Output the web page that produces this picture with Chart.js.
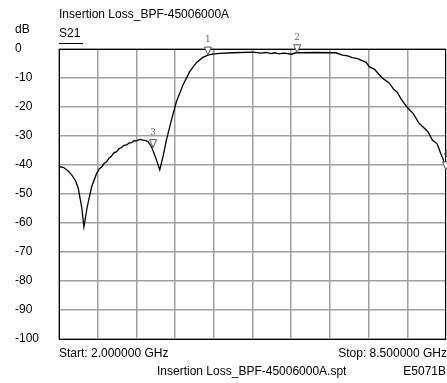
<!DOCTYPE html>
<html>
<head>
<meta charset="utf-8">
<script src="https://cdn.jsdelivr.net/npm/chart.js@4.4.1/dist/chart.umd.min.js"></script>
<style>
  body { margin: 0; background: #fff; }
  #wrap { width: 447px; height: 383px; }
</style>
</head>
<body>
<div id="wrap"><canvas id="s21" width="447" height="383"></canvas></div>
<script>
// S21 trace
const freqGHz = [2.000, 2.072, 2.150, 2.213, 2.280, 2.323, 2.380, 2.419, 2.474, 2.548,
  2.632, 2.680, 2.720, 2.760, 2.799, 2.840, 2.880, 2.920, 2.967, 3.010,
  3.050, 3.090, 3.134, 3.180, 3.220, 3.260, 3.302, 3.360, 3.412, 3.460,
  3.496, 3.553, 3.608, 3.650, 3.692, 3.747, 3.804, 3.888, 3.972, 4.082,
  4.195, 4.307, 4.417, 4.501, 4.580, 4.697, 4.920, 5.255, 5.400, 5.480,
  5.560, 5.620, 5.700, 5.760, 5.820, 5.900, 5.982, 6.317, 6.652, 6.760,
  6.850, 6.925, 7.014, 7.100, 7.160, 7.210, 7.300, 7.350, 7.433, 7.490,
  7.540, 7.629, 7.680, 7.750, 7.847, 7.950, 8.048, 8.150, 8.200, 8.271,
  8.350, 8.380, 8.411, 8.450, 8.500];
const s21dB = [-40.6, -40.8, -42.0, -43.4, -45.5, -48.0, -54.4, -61.3, -54.4, -47.5,
  -42.9, -41.3, -40.6, -39.4, -38.9, -37.6, -37.0, -35.8, -35.4, -34.3,
  -34.0, -33.2, -33.1, -32.4, -32.3, -31.6, -31.7, -31.2, -31.4, -31.6,
  -32.0, -33.7, -36.6, -39.0, -41.7, -37.1, -31.4, -24.5, -18.2, -12.4,
  -7.8, -4.7, -2.9, -2.1, -1.8, -1.5, -1.3, -1.1, -1.4, -1.2,
  -1.6, -1.3, -1.7, -1.4, -1.5, -1.8, -1.3, -1.2, -1.3, -2.1,
  -2.4, -3.0, -3.3, -4.1, -4.6, -6.1, -7.0, -8.2, -10.1, -10.9,
  -11.6, -14.1, -14.9, -17.4, -20.1, -22.3, -25.6, -27.6, -28.6, -31.4,
  -32.7, -34.2, -36.0, -37.8, -41.7];

const markerNames = ['1', '2', '3', '4'];
const markerGHz = [4.5, 6.0, 3.58, 8.5];
const markerdB = [-2.1, -1.3, -34.0, -41.7];

const xGridGHz = [2.0, 2.65, 3.3, 3.95, 4.6, 5.25, 5.9, 6.55, 7.2, 7.85, 8.5];
const yTicks = [0, -10, -20, -30, -40, -50, -60, -70, -80, -90, -100];

const font = '12px "Liberation Sans", Arial, sans-serif';

const decor = {
  id: 'decor',
  afterDatasetsDraw(chart) {
    const ctx = chart.ctx;
    const a = chart.chartArea;
    const xs = chart.scales.x, ys = chart.scales.y;
    ctx.save();
    // frame
    ctx.strokeStyle = '#000';
    ctx.lineWidth = 1;
    ctx.strokeRect(a.left + 0.5, a.top + 0.5, a.right - a.left - 1, a.bottom - a.top);

    // markers
    for (let i = 0; i < markerGHz.length; i++) {
      const px = xs.getPixelForValue(markerGHz[i]);
      const py = ys.getPixelForValue(markerdB[i]);
      ctx.beginPath();
      ctx.moveTo(px, py);
      ctx.lineTo(px - 3.5, py - 8);
      ctx.lineTo(px + 3.5, py - 8);
      ctx.closePath();
      ctx.fillStyle = '#fff';
      ctx.fill();
      ctx.strokeStyle = '#555';
      ctx.lineWidth = 1;
      ctx.stroke();
      ctx.fillStyle = '#666';
      ctx.font = '9px "DejaVu Serif", serif';
      ctx.textAlign = 'center';
      ctx.textBaseline = 'middle';
      ctx.fillText(markerNames[i], px, py - 15);
    }

    // texts
    ctx.fillStyle = '#000';
    ctx.strokeStyle = '#000';
    ctx.font = font;
    ctx.textBaseline = 'middle';
    ctx.textAlign = 'left';
    ctx.fillText('Insertion Loss_BPF-45006000A', 59, 15);
    ctx.fillText('dB', 15, 30);
    ctx.fillText('S21', 59, 34);
    ctx.beginPath();
    ctx.moveTo(59, 43.5);
    ctx.lineTo(83, 43.5);
    ctx.stroke();
    ctx.fillText('Start: 2.000000 GHz', 59, 354);
    ctx.fillText('Insertion Loss_BPF-45006000A.spt', 157, 372);
    ctx.textAlign = 'right';
    ctx.fillText('Stop: 8.500000 GHz', 447, 354);
    ctx.fillText('E5071B', 446, 372);
    ctx.restore();
  }
};

new Chart(document.getElementById('s21'), {
  type: 'line',
  data: {
    datasets: [{
      data: freqGHz.map((f, i) => ({ x: f, y: s21dB[i] })),
      borderColor: '#000',
      borderWidth: 1.3,
      pointRadius: 0,
      tension: 0
    }]
  },
  options: {
    responsive: false,
    animation: false,
    layout: { padding: { left: 15, top: 49, right: 1, bottom: 44 } },
    plugins: { legend: { display: false }, tooltip: { enabled: false } },
    scales: {
      x: {
        type: 'linear',
        min: 2,
        max: 8.5,
        afterBuildTicks: s => { s.ticks = xGridGHz.map(v => ({ value: v })); },
        afterFit: s => { s.height = 0; },
        ticks: { display: false },
        grid: { color: '#a0a0a0', lineWidth: 1.5, drawTicks: false },
        border: { display: false }
      },
      y: {
        min: -100,
        max: 0,
        afterBuildTicks: s => { s.ticks = yTicks.map(v => ({ value: v })); },
        afterFit: s => { s.width = 44; },
        ticks: {
          crossAlign: 'far',
          color: '#000',
          font: { family: '"Liberation Sans", Arial, sans-serif', size: 12 }
        },
        grid: { color: '#a0a0a0', lineWidth: 1.5, drawTicks: false },
        border: { display: false }
      }
    }
  },
  plugins: [decor]
});
</script>
</body>
</html>
